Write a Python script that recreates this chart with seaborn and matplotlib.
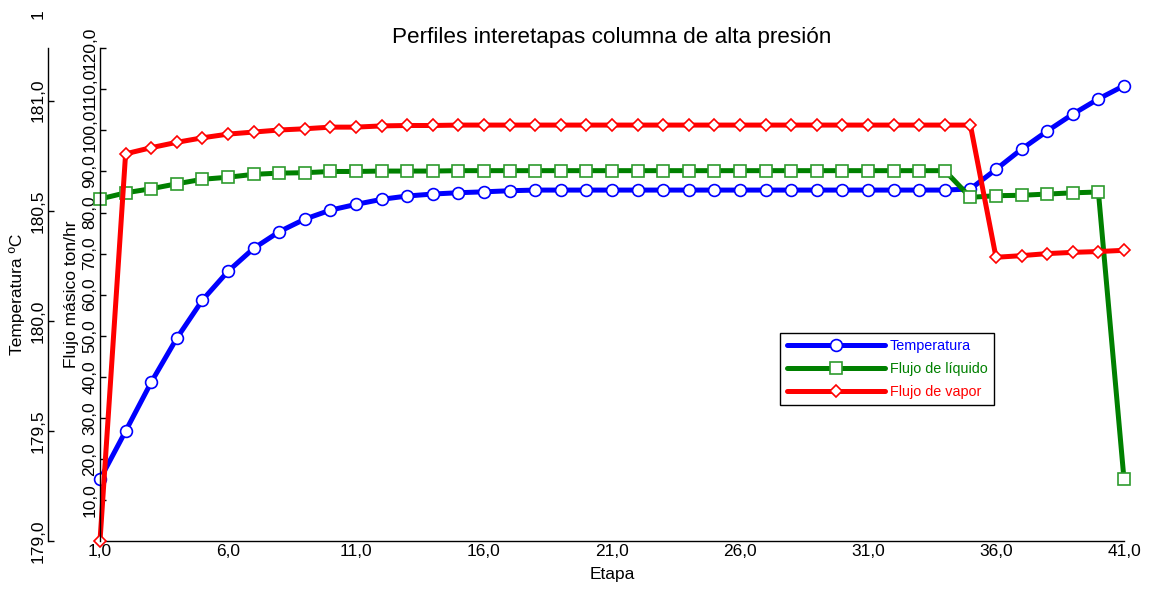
import matplotlib
matplotlib.use("Agg")
import matplotlib.pyplot as plt
from matplotlib.ticker import FuncFormatter
import numpy as np
import seaborn as sns

# stage profiles
etapas = list(range(1, 42))
temperatura = [179.280, 179.499, 179.721, 179.921, 180.094, 180.225, 180.329, 180.405,
               180.462, 180.503, 180.529, 180.552, 180.567, 180.576, 180.582, 180.586,
               180.591, 180.594, 180.594, 180.594, 180.594, 180.594, 180.594, 180.594,
               180.594, 180.594, 180.594, 180.594, 180.594, 180.594, 180.594, 180.594,
               180.594, 180.594, 180.599, 180.688, 180.780, 180.862, 180.939, 181.008,
               181.068]
flujo_liquido = [83.3, 84.8, 85.8, 87.0, 88.1, 88.6, 89.3, 89.6, 89.7, 90.0, 90.0,
                 90.1, 90.1, 90.1, 90.2, 90.2, 90.2, 90.2, 90.2, 90.2, 90.2, 90.2,
                 90.2, 90.2, 90.2, 90.2, 90.2, 90.2, 90.2, 90.2, 90.2, 90.2, 90.2,
                 90.2, 83.7, 84.1, 84.2, 84.5, 84.8, 85.0, 15.0]
flujo_vapor = [0.0, 94.3, 95.8, 97.1, 98.2, 99.1, 99.6, 100.1, 100.4, 100.8, 100.8,
               101.1, 101.2, 101.2, 101.3, 101.3, 101.3, 101.3, 101.3, 101.3, 101.3,
               101.3, 101.3, 101.3, 101.3, 101.3, 101.3, 101.3, 101.3, 101.3, 101.3,
               101.3, 101.3, 101.3, 101.3, 69.1, 69.5, 70.0, 70.3, 70.5, 70.8]

ticks_x = [1, 6, 11, 16, 21, 26, 31, 36, 41]
ticks_temp = [179.0, 179.5, 180.0, 180.5, 181.0]
ticks_flujo = [10, 20, 30, 40, 50, 60, 70, 80, 90, 100, 110, 120]

sns.set_theme(style="white")
plt.rcParams['font.family'] = ['Liberation Sans', 'DejaVu Sans']
plt.rcParams.update({'text.color': 'black', 'axes.labelcolor': 'black',
                     'xtick.color': 'black', 'ytick.color': 'black'})

W, H = 1149, 592
fig = plt.figure(figsize=(W / 100, H / 100), dpi=100)
left, right, top, bottom = 100, 1124, 48.3, 541
ax_t = fig.add_axes([left / W, (H - bottom) / H, (right - left) / W, (bottom - top) / H])
ax_f = ax_t.twinx()

coma = FuncFormatter(lambda v, p: f"{v:.1f}".replace('.', ','))
lw, ms = 3.6, 8.5

sns.lineplot(x=etapas, y=temperatura, ax=ax_t, color='#0000ff', lw=lw, marker='o', ms=ms,
             markerfacecolor='white', markeredgecolor='#0000ff', markeredgewidth=1.2,
             clip_on=False, label='Temperatura', legend=False)
sns.lineplot(x=etapas, y=flujo_liquido, ax=ax_f, color='#008000', lw=lw, marker='s', ms=ms,
             markerfacecolor='white', markeredgecolor='#2e9b2e', markeredgewidth=1.2,
             clip_on=False, label='Flujo de líquido', legend=False)
sns.lineplot(x=etapas, y=flujo_vapor, ax=ax_f, color='#ff0000', lw=lw, marker='D', ms=6.5,
             markerfacecolor='white', markeredgecolor='#ff0000', markeredgewidth=1.2,
             clip_on=False, label='Flujo de vapor', legend=False)

# x axis
ax_t.set_xlim(1, 41)
ax_t.set_xticks(ticks_x)
ax_t.xaxis.set_major_formatter(coma)
ax_t.set_xlabel('Etapa', fontsize=12.5, labelpad=6)

# temperature axis, pushed out to the left (52 px)
ax_t.set_ylim(179.0, 181.238)
ax_t.set_yticks(ticks_temp)
ax_t.yaxis.set_major_formatter(coma)
ax_t.spines['left'].set_position(('outward', 52 * 0.72))
ax_t.set_ylabel('Temperatura ºC', fontsize=12.5, labelpad=4)

# flow axis on the left, at the plot edge
ax_f.set_ylim(0, 120)
ax_f.set_yticks(ticks_flujo)
ax_f.yaxis.set_major_formatter(coma)
ax_f.yaxis.set_ticks_position('left')
ax_f.yaxis.set_label_position('left')
ax_f.set_ylabel('Flujo másico ton/hr', fontsize=12.5, labelpad=2)

for a in (ax_t, ax_f):
    for s in ('top', 'right'):
        a.spines[s].set_visible(False)
    for s in ('left', 'bottom'):
        a.spines[s].set_color('black')
        a.spines[s].set_linewidth(1.0)
    a.tick_params(direction='in', length=4, width=1, colors='black', labelsize=12.5, pad=2)
    a.patch.set_alpha(0)
ax_f.spines['bottom'].set_visible(False)
for a in (ax_t, ax_f):
    for lab in a.get_yticklabels():
        lab.set_rotation(90)
        lab.set_va('center')

# the only visible piece of the next temperature label, at the very top
fig.text(46 / W, (H - 19) / H, '1', rotation=90, ha='right', va='bottom', fontsize=12.5)

ax_t.set_title('Perfiles interetapas columna de alta presión', fontsize=16.2, pad=4)

handles = ax_t.get_lines()[:1] + ax_f.get_lines()[:2]
leg = ax_f.legend(handles, [h.get_label() for h in handles], loc='upper left',
                  bbox_to_anchor=((780 - left) / (right - left), (bottom - 333) / (bottom - top)),
                  borderaxespad=0, fontsize=10.4, handlelength=6.8, handletextpad=0.35,
                  labelspacing=0.6, borderpad=0.45, fancybox=False, framealpha=1,
                  edgecolor='black', numpoints=1)
leg.get_frame().set_linewidth(1.0)
for txt, c in zip(leg.get_texts(), ['#0000ff', '#008000', '#ff0000']):
    txt.set_color(c)

fig.savefig('out.png', dpi=100)
